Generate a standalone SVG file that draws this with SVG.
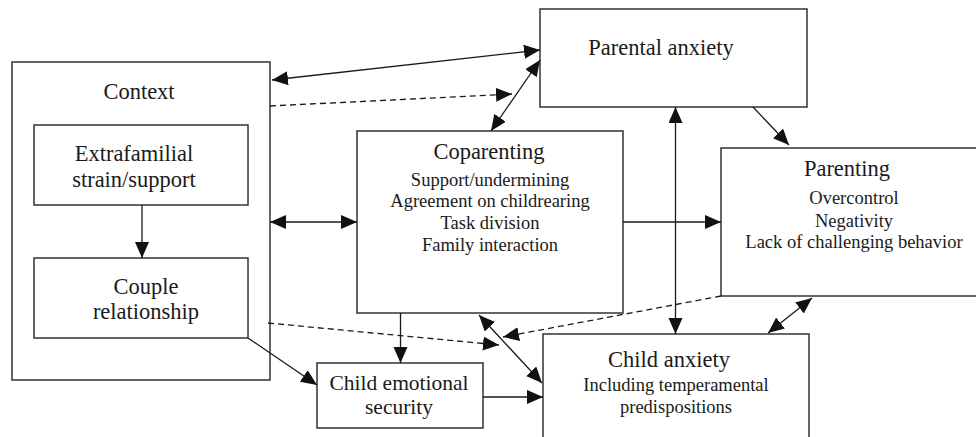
<svg xmlns="http://www.w3.org/2000/svg" width="976" height="437" viewBox="0 0 976 437">
<defs>
<marker id="ah" markerUnits="userSpaceOnUse" markerWidth="18" markerHeight="16" refX="16" refY="7" orient="auto-start-reverse">
<path d="M0,0 L16,7 L0,14 z" fill="#111"/>
</marker>
<style>
.box{fill:#fff;stroke:#333;stroke-width:1.5}
.t{font-family:"Liberation Serif","Times New Roman",serif;fill:#1a1a1a;text-anchor:middle}
.big{font-size:22.5px}
.sm{font-size:18.5px}
.ln{fill:none;stroke:#1a1a1a;stroke-width:1.3}
.s{marker-end:url(#ah)}
.d{marker-start:url(#ah);marker-end:url(#ah)}
.dash{stroke-dasharray:6,4}
</style>
</defs>
<rect width="976" height="437" fill="#fff"/>
<g id="context">
<rect class="box" x="12" y="62" width="258" height="318"/>
<text class="t big" x="139" y="99">Context</text>
</g>
<g id="extrafamilial">
<rect class="box" x="34" y="125" width="214" height="80"/>
<text class="t big" x="134" y="161">Extrafamilial</text>
<text class="t big" x="134" y="187">strain/support</text>
</g>
<g id="couple">
<rect class="box" x="34" y="258" width="214" height="80"/>
<text class="t big" x="146" y="294">Couple</text>
<text class="t big" x="146" y="319">relationship</text>
</g>
<g id="parental-anxiety">
<rect class="box" x="540" y="9" width="267" height="98"/>
<text class="t big" x="661" y="55">Parental anxiety</text>
</g>
<g id="coparenting">
<rect class="box" x="357" y="131" width="266" height="182"/>
<text class="t big" x="489" y="159">Coparenting</text>
<text class="t sm" x="490" y="186">Support/undermining</text>
<text class="t sm" x="490" y="207">Agreement on childrearing</text>
<text class="t sm" x="490" y="229">Task division</text>
<text class="t sm" x="490" y="251">Family interaction</text>
</g>
<g id="parenting">
<rect class="box" x="721" y="148" width="260" height="148"/>
<text class="t big" x="847" y="176">Parenting</text>
<text class="t sm" x="854" y="204">Overcontrol</text>
<text class="t sm" x="854" y="227">Negativity</text>
<text class="t sm" x="854" y="248">Lack of challenging behavior</text>
</g>
<g id="child-emotional-security">
<rect class="box" x="317" y="363" width="166" height="65"/>
<text class="t" style="font-size:21.5px" x="399" y="390">Child emotional</text>
<text class="t" style="font-size:21.5px" x="399" y="414">security</text>
</g>
<g id="child-anxiety">
<rect class="box" x="543" y="334" width="266" height="110"/>
<text class="t big" x="669" y="367">Child anxiety</text>
<text class="t sm" x="676" y="391">Including temperamental</text>
<text class="t sm" x="676" y="413">predispositions</text>
</g>
<g id="connectors">
<line class="ln d" x1="272" y1="80" x2="540" y2="50"/>
<line class="ln s dash" x1="270" y1="106" x2="512" y2="94"/>
<line class="ln d" x1="491" y1="131" x2="540" y2="60"/>
<line class="ln d" x1="675.5" y1="107" x2="675.5" y2="334"/>
<line class="ln s" x1="753" y1="107" x2="789" y2="145"/>
<line class="ln s" x1="623" y1="222" x2="721" y2="222"/>
<line class="ln d" x1="812" y1="298" x2="768" y2="333"/>
<line class="ln s dash" x1="721" y1="296" x2="503" y2="337"/>
<line class="ln d" x1="270" y1="222" x2="357" y2="222"/>
<line class="ln s" x1="142" y1="205" x2="142" y2="258"/>
<line class="ln s" x1="248" y1="338" x2="317" y2="385"/>
<line class="ln s" x1="400.5" y1="313" x2="400.5" y2="363"/>
<line class="ln s dash" x1="268" y1="323" x2="499" y2="345"/>
<line class="ln d" x1="479" y1="315" x2="542" y2="383"/>
<line class="ln s" x1="483" y1="397" x2="543" y2="397"/>
</g>
</svg>
